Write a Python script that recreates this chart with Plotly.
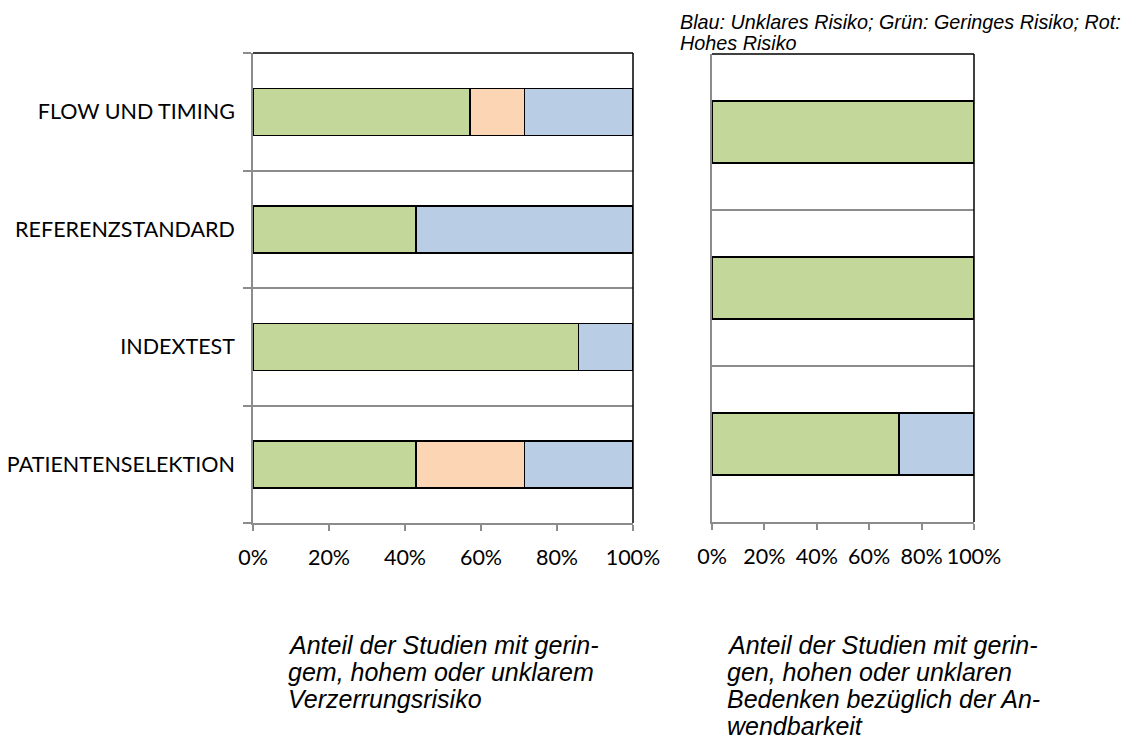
import plotly.graph_objects as go

# Risk of bias (left panel), bottom to top
bias_domains = ["PATIENTENSELEKTION", "INDEXTEST", "REFERENZSTANDARD", "FLOW UND TIMING"]
bias_low = [42.86, 85.71, 42.86, 57.14]
bias_high = [28.57, 0.0, 0.0, 14.29]
bias_unclear = [28.57, 14.29, 57.14, 28.57]

# Applicability concerns (right panel), bottom to top
appl_domains = ["PATIENTENSELEKTION", "INDEXTEST", "REFERENZSTANDARD"]
appl_low = [71.43, 100.0, 100.0]
appl_high = [0.0, 0.0, 0.0]
appl_unclear = [28.57, 0.0, 0.0]

x_ticks = [0, 20, 40, 60, 80, 100]
x_tick_labels = ["0%", "20%", "40%", "60%", "80%", "100%"]

GREEN = "#C4D79B"
ORANGE = "#FCD5B5"
BLUE = "#B9CDE5"
GRAY = "#8C8C8C"
W, H = 1135, 742

fig = go.Figure()

def add_stack(ypos, low, high, unclear, xa, ya):
    for vals, col in ((low, GREEN), (high, ORANGE), (unclear, BLUE)):
        fig.add_trace(go.Bar(
            y=ypos, x=vals, orientation="h", width=0.4,
            marker=dict(color=col, line=dict(color="black", width=1.5)),
            xaxis=xa, yaxis=ya, showlegend=False, hoverinfo="x+y",
        ))

add_stack(list(range(len(bias_domains))), bias_low, bias_high, bias_unclear, "x", "y")
add_stack(list(range(len(appl_domains))), appl_low, appl_high, appl_unclear, "x2", "y2")

tick_font = dict(family="Lato, Carlito, sans-serif", size=21.5, color="black")

def xaxis_cfg(domain, anchor):
    return dict(
        domain=domain, anchor=anchor, range=[0, 100], automargin=False,
        tickmode="array", tickvals=x_ticks, ticktext=x_tick_labels,
        showline=True, linecolor=GRAY, linewidth=1.5,
        ticks="outside", ticklen=6, tickcolor=GRAY, tickwidth=1.5,
        ticklabelstandoff=8,
        showgrid=False, zeroline=False, tickfont=tick_font, fixedrange=True,
    )

def px(y):
    return 1 - y / H

n1, n2 = len(bias_domains), len(appl_domains)
fig.update_layout(
    width=W, height=H, autosize=False, margin=dict(l=0, r=0, t=0, b=0),
    paper_bgcolor="white", plot_bgcolor="white",
    barmode="stack",
    xaxis=xaxis_cfg([253 / W, 633 / W], "y"),
    xaxis2=xaxis_cfg([712 / W, 974 / W], "y2"),
    yaxis=dict(
        domain=[px(523), px(53)], range=[-0.5, n1 - 0.5], automargin=False,
        tickvals=list(range(n1)), ticktext=bias_domains, ticks="",
        ticklabelstandoff=12,
        showline=True, linecolor=GRAY, linewidth=1.5,
        showgrid=False, zeroline=False, tickfont=tick_font, fixedrange=True,
        minor=dict(tickmode="array", tickvals=[i - 0.5 for i in range(n1 + 1)],
                   ticks="outside", ticklen=8, tickcolor=GRAY, tickwidth=1.5,
                   showgrid=True, gridcolor=GRAY, gridwidth=1.5),
    ),
    yaxis2=dict(
        anchor="x2", domain=[px(522), px(54)], range=[-0.5, n2 - 0.5],
        automargin=False,
        tickvals=list(range(n2)), showticklabels=False, ticks="",
        showline=True, linecolor=GRAY, linewidth=1.5,
        showgrid=False, zeroline=False, fixedrange=True,
        minor=dict(tickmode="array", tickvals=[i - 0.5 for i in range(n2 + 1)],
                   ticks="", showgrid=True, gridcolor=GRAY, gridwidth=1.5),
    ),
)

# black top and right frame of each plot area
for xr, yr in (("x domain", "y domain"), ("x2 domain", "y2 domain")):
    fig.add_shape(type="line", xref=xr, yref=yr, x0=0, x1=1, y0=1, y1=1,
                  line=dict(color="black", width=1.5))
    fig.add_shape(type="line", xref=xr, yref=yr, x0=1, x1=1, y0=0, y1=1,
                  line=dict(color="black", width=1.5))

note_font = dict(family="Liberation Sans, Arial, sans-serif", size=25, color="black")

def text_lines(lines, x, y0, dy, font):
    for i, line in enumerate(lines):
        fig.add_annotation(
            text=f"<i>{line}</i>", xref="paper", yref="paper",
            x=x / W, y=px(y0 + i * dy), xanchor="left", yanchor="middle",
            showarrow=False, font=font,
        )

text_lines(["Anteil der Studien mit gerin-", "gem, hohem oder unklarem",
            "Verzerrungsrisiko"], 286, 645, 27, note_font)
text_lines(["Anteil der Studien mit gerin-", "gen, hohen oder unklaren",
            "Bedenken bezüglich der An-", "wendbarkeit"], 725, 645, 27, note_font)
text_lines(["Blau: Unklares Risiko; Grün: Geringes Risiko; Rot:", "Hohes Risiko"],
           678, 22, 21, dict(family="Liberation Sans, Arial, sans-serif", size=19.8,
                             color="black"))

fig.write_html(
    "out.html",
    config={"responsive": False, "displayModeBar": False},
    post_script="document.documentElement.style.overflow='hidden';"
                "document.body.style.margin='0';document.body.style.overflow='hidden';",
)
